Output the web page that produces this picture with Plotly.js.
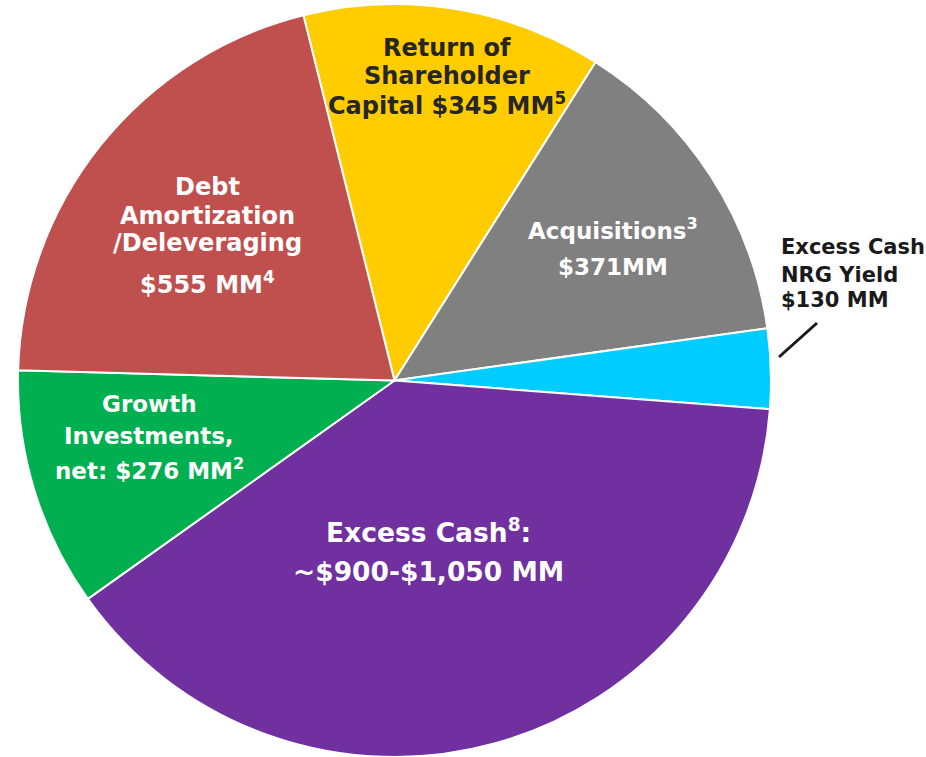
<!DOCTYPE html>
<html>
<head>
<meta charset="utf-8">
<script src="https://cdn.plot.ly/plotly-3.0.1.min.js"></script>
<style>
  html, body { margin: 0; padding: 0; background: #ffffff; }
  #chart { width: 926px; height: 757px; }
</style>
</head>
<body>
<div id="chart"></div>
<script>
// Slice categories (clockwise from the top-left boundary)
const categories = [
  "Return of Shareholder Capital",
  "Acquisitions",
  "Excess Cash NRG Yield",
  "Excess Cash",
  "Growth Investments, net",
  "Debt Amortization/Deleveraging"
];
// Slice sizes as drawn in the picture ($MM equivalent)
const values = [345, 371, 92, 1045, 276, 555];
const sliceColors = ["#FFCC00", "#808080", "#00CCFF", "#7030A0", "#00B050", "#C0504D"];

// Label texts (one entry per line)
const labelShareholder = ["Return of", "Shareholder", "Capital $345 MM<sup>5</sup>"];
const labelDebt = ["Debt", "Amortization", "/Deleveraging", "$555 MM<sup>4</sup>"];
const labelAcq = ["Acquisitions<sup>3</sup>", "$371MM"];
const labelYield = ["Excess Cash", "NRG Yield", "$130 MM"];
const labelGrowth = ["Growth", "Investments,", "net: $276 MM<sup>2</sup>"];
const labelExcess = ["Excess Cash<sup>8</sup>:", "~$900-$1,050 MM"];

const W = 926, H = 757;
const FONT = "DejaVu Sans, Verdana, sans-serif";

function px(x) { return x / W; }
function py(y) { return 1 - y / H; }

const annotations = [];
function addLines(lines, x, baselines, size, color, anchor) {
  lines.forEach((t, i) => {
    annotations.push({
      xref: "paper", yref: "paper",
      x: px(x), y: py(baselines[i] - 0.36 * size),
      xanchor: anchor || "center", yanchor: "middle",
      text: "<b>" + t + "</b>",
      showarrow: false,
      font: { family: FONT, size: size, color: color }
    });
  });
}

addLines(labelShareholder, 447, [57, 85, 113], 24, "#262626");
addLines(labelDebt, 207, [196, 225, 252, 292], 24, "#ffffff");
addLines(labelAcq, 613, [237, 275], 23, "#ffffff");
addLines(labelYield, 779, [255, 283, 308], 21, "#1a1a1a", "left");
addLines(labelGrowth, 149, [412, 444, 477], 23, "#ffffff");
addLines(labelExcess, 428, [541, 581], 26.5, "#ffffff");

const cx = 394.5, cy = 380.5, r = 376.5;

const trace = {
  type: "pie",
  labels: categories,
  values: values,
  sort: false,
  direction: "clockwise",
  rotation: -14,
  textinfo: "none",
  hoverinfo: "label+value",
  marker: { colors: sliceColors, line: { color: "#ffffff", width: 2 } },
  domain: { x: [px(cx - r), px(cx + r)], y: [Math.max(0, py(cy + r)), Math.min(1, py(cy - r))] },
  showlegend: false
};

const layout = {
  width: W, height: H,
  margin: { l: 0, r: 0, t: 0, b: 0 },
  paper_bgcolor: "#ffffff",
  showlegend: false,
  annotations: annotations,
  shapes: [{
    type: "line", xref: "paper", yref: "paper",
    x0: px(779), y0: py(357), x1: px(817), y1: py(323),
    line: { color: "#1a1a1a", width: 3 }
  }]
};

Plotly.newPlot("chart", [trace], layout, { displayModeBar: false, staticPlot: true });
</script>
</body>
</html>
